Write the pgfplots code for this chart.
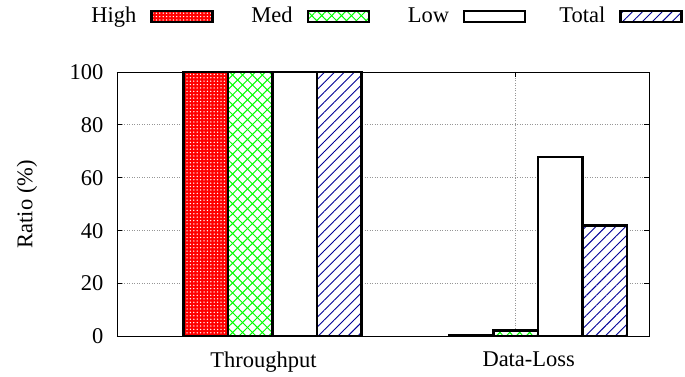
\documentclass[border=0pt]{standalone}
\usepackage{fontspec}
\setmainfont{LiberationSerif}[Extension=.ttf, UprightFont=*-Regular, BoldFont=*-Bold]
\usepackage{pgfplots}
\pgfplotsset{compat=1.18}
\usetikzlibrary{patterns,patterns.meta}
\newcommand{\ff}{\fontsize{22.5}{27}\selectfont}
\definecolor{hatchblue}{RGB}{0,0,150}
\definecolor{gridgray}{RGB}{150,150,150}

\begin{document}
\ff
\begin{tikzpicture}
\path[use as bounding box] (-117pt,-40.5pt) rectangle (568pt,336.5pt);
\begin{axis}[
  scale only axis,
  width=532pt, height=264.5pt,
  font=\ff,
  /pgf/number format/assume math mode=true,
  ybar=0pt, bar width=44.5pt,
  xmin=-0.5869, xmax=1.4184,
  ymin=0, ymax=100,
  ytick={0,20,40,60,80,100},
  xtick={-0.0839,0.9161},
  xticklabels={Throughput,Data-Loss},
  xticklabel style={xshift=13pt, yshift=-8pt},
  yticklabel style={xshift=-6pt},
  tick align=inside,
  major tick length=5pt,
  tick style={black, line width=0.8pt},
  axis line style={line width=0.9pt},
  xmajorgrids, ymajorgrids,
  grid style={gridgray, line width=0.8pt, dash pattern=on 1pt off 1.5pt},
  every axis y label/.style={at={(axis description cs:-0.169,0.5)}, rotate=90, anchor=center},
  ylabel={Ratio (\%)},
  legend columns=4,
  legend plot pos=right,
  legend image code/.code={\draw[#1] (0pt,-5.5pt) rectangle (61pt,5.5pt);},
  legend style={draw=none, fill=none, font=\ff,
    at={(axis description cs:1,1)}, anchor=east, xshift=34pt, yshift=55.5pt,
    inner sep=0pt, column sep=14pt,
    nodes={inner sep=0pt},
    /tikz/every even column/.append style={column sep=18.8pt}},
]
% High priority
\addplot[draw=black, line width=2.5pt, fill=red,
  postaction={pattern={Dots[distance=3.4pt, radius=0.75pt]}, pattern color=white}]
  coordinates {(0,100) (1,0.3)};
% Medium priority
\addplot[draw=black, line width=2.5pt, fill=white,
  postaction={pattern={Lines[angle=45, distance=7pt, line width=1pt]}, pattern color=green},
  postaction={pattern={Lines[angle=-45, distance=7pt, line width=1pt]}, pattern color=green}]
  coordinates {(0,100) (1,2.3)};
% Low priority
\addplot[draw=black, line width=2.5pt, fill=white]
  coordinates {(0,100) (1,67.8)};
% All traffic
\addplot[draw=black, line width=2.5pt, fill=white,
  postaction={pattern={Lines[angle=45, distance=7pt, line width=0.9pt]}, pattern color=hatchblue}]
  coordinates {(0,100) (1,41.9)};
\legend{\makebox[60pt][r]{High},\makebox[60pt][r]{Med},\makebox[60pt][r]{Low},\makebox[60pt][r]{Total}}
\end{axis}
\end{tikzpicture}
\end{document}
